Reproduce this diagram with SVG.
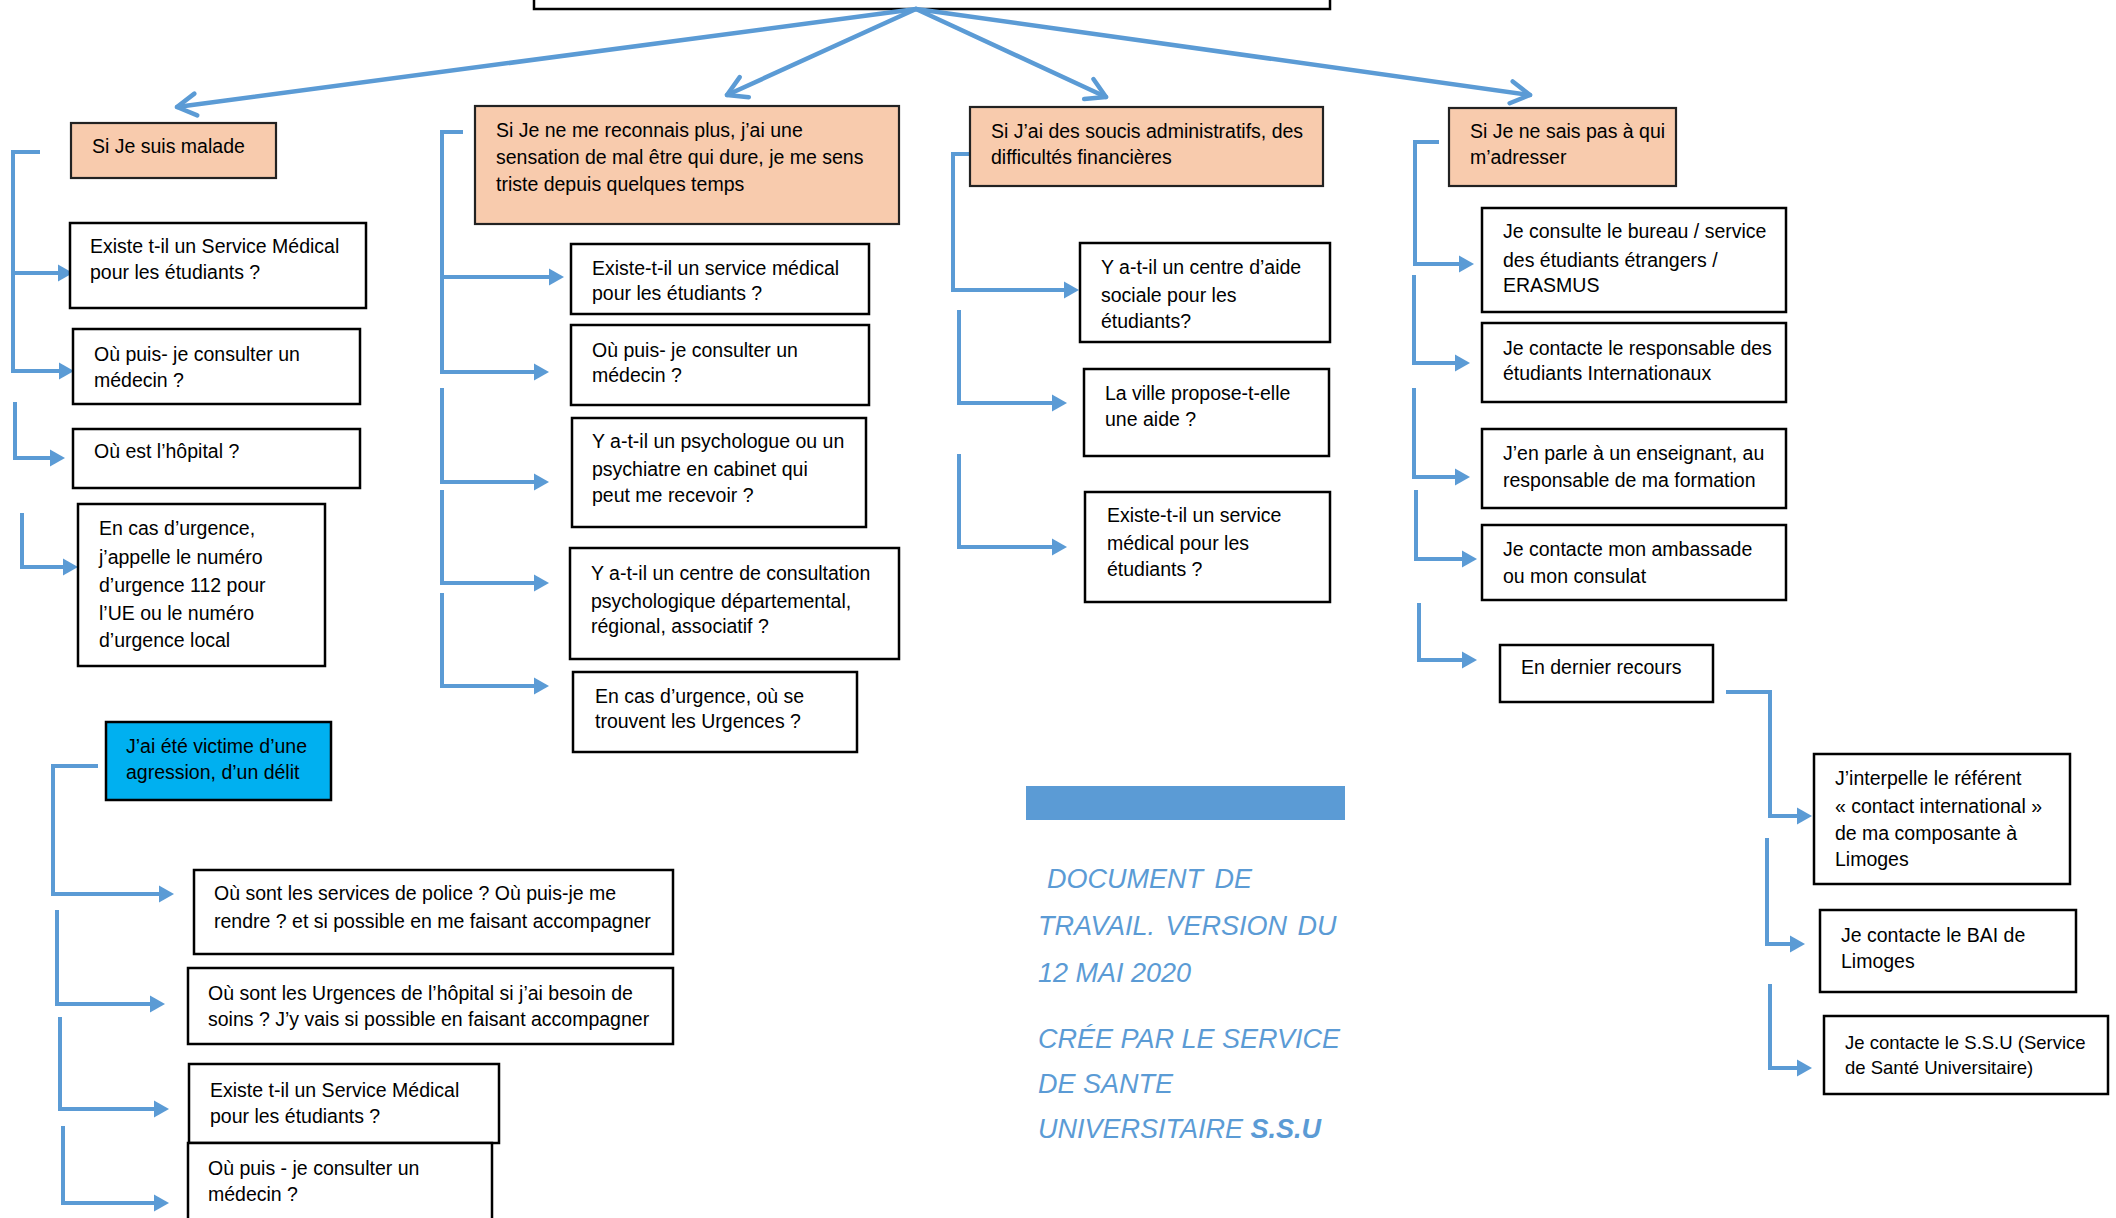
<svg xmlns="http://www.w3.org/2000/svg" width="2116" height="1218" viewBox="0 0 2116 1218">
<style>
.box{fill:#fff;stroke:#000;stroke-width:2.5}
.pe{fill:#F8CBAD;stroke:#222;stroke-width:2.2}
.bl{fill:#00B0F0;stroke:#000;stroke-width:2.5}
text{font-family:"Liberation Sans",Arial,sans-serif;font-size:19.5px;fill:#000}
.c{fill:none;stroke:#5B9BD5;stroke-width:4}
.m{fill:none;stroke:#5B9BD5;stroke-width:4.5;stroke-linecap:round}
.note{font-size:27px;font-style:italic;fill:#5B9BD5}
.sm{font-size:18.5px}
</style>
<defs>
<marker id="tri" markerUnits="userSpaceOnUse" viewBox="0 -10 16 20" refX="1" refY="0" markerWidth="16" markerHeight="20" orient="auto" overflow="visible">
<path d="M0,-8.5 L15,0 L0,8.5 Z" fill="#5B9BD5"/>
</marker>
<marker id="chev" markerUnits="userSpaceOnUse" viewBox="-25 -15 30 30" refX="0" refY="0" markerWidth="30" markerHeight="30" orient="auto" overflow="visible">
<path d="M-19,-11 L0,0 L-19,11" fill="none" stroke="#5B9BD5" stroke-width="4.5" stroke-linecap="round" stroke-linejoin="round"/>
</marker>
</defs>

<g id="top"><rect class="box" x="534" y="-40" width="796" height="49"/></g>

<g id="connectors">
<path class="m" d="M916,9 L177,107" marker-end="url(#chev)"/>
<path class="m" d="M916,9 L727,95" marker-end="url(#chev)"/>
<path class="m" d="M916,9 L1106,97" marker-end="url(#chev)"/>
<path class="m" d="M916,9 L1530,95" marker-end="url(#chev)"/>

<path class="c" d="M40,152 H13 V371 H60" marker-end="url(#tri)"/>
<path class="c" d="M13,273 H59" marker-end="url(#tri)"/>
<path class="c" d="M15,402 V458 H51" marker-end="url(#tri)"/>
<path class="c" d="M22,513 V567 H64" marker-end="url(#tri)"/>
<path class="c" d="M98,766 H53 V894 H160" marker-end="url(#tri)"/>
<path class="c" d="M57,910 V1004 H151" marker-end="url(#tri)"/>
<path class="c" d="M60,1017 V1109 H155" marker-end="url(#tri)"/>
<path class="c" d="M63,1126 V1203 H155" marker-end="url(#tri)"/>

<path class="c" d="M463,132 H442 V372 H535" marker-end="url(#tri)"/>
<path class="c" d="M442,277 H550" marker-end="url(#tri)"/>
<path class="c" d="M442,388 V482 H535" marker-end="url(#tri)"/>
<path class="c" d="M442,490 V583 H535" marker-end="url(#tri)"/>
<path class="c" d="M442,593 V686 H535" marker-end="url(#tri)"/>

<path class="c" d="M970,154 H953 V290 H1065" marker-end="url(#tri)"/>
<path class="c" d="M959,310 V403 H1053" marker-end="url(#tri)"/>
<path class="c" d="M959,454 V547 H1053" marker-end="url(#tri)"/>

<path class="c" d="M1439,142 H1415 V264 H1460" marker-end="url(#tri)"/>
<path class="c" d="M1414,275 V363 H1456" marker-end="url(#tri)"/>
<path class="c" d="M1414,388 V477 H1456" marker-end="url(#tri)"/>
<path class="c" d="M1416,490 V559 H1463" marker-end="url(#tri)"/>
<path class="c" d="M1419,603 V660 H1463" marker-end="url(#tri)"/>
<path class="c" d="M1726,692 H1770 V816 H1798" marker-end="url(#tri)"/>
<path class="c" d="M1767,838 V944 H1791" marker-end="url(#tri)"/>
<path class="c" d="M1770,984 V1068 H1798" marker-end="url(#tri)"/>
</g>

<g id="n1"><rect class="pe" x="71" y="123" width="205" height="55"/><text x="92" y="153">Si Je suis malade</text></g>
<g id="n2"><rect class="box" x="70" y="223" width="296" height="85"/><text x="90" y="253">Existe t-il un Service Médical</text><text x="90" y="279">pour les étudiants ?</text></g>
<g id="n3"><rect class="box" x="73" y="329" width="287" height="75"/><text x="94" y="361">Où puis- je consulter un</text><text x="94" y="387">médecin ?</text></g>
<g id="n4"><rect class="box" x="73" y="429" width="287" height="59"/><text x="94" y="458">Où est l’hôpital ?</text></g>
<g id="n5"><rect class="box" x="78" y="504" width="247" height="162"/><text x="99" y="535">En cas d’urgence,</text><text x="99" y="564">j’appelle le numéro</text><text x="99" y="592">d’urgence 112 pour</text><text x="99" y="620">l’UE ou le numéro</text><text x="99" y="647">d’urgence local</text></g>
<g id="n6"><rect class="bl" x="106" y="722" width="225" height="78"/><text x="126" y="753">J’ai été victime d’une</text><text x="126" y="779">agression, d’un délit</text></g>
<g id="n7"><rect class="box" x="194" y="870" width="479" height="84"/><text x="214" y="900">Où sont les services de police ? Où puis-je me</text><text x="214" y="928">rendre ? et si possible en me faisant accompagner</text></g>
<g id="n8"><rect class="box" x="188" y="968" width="485" height="76"/><text x="208" y="1000">Où sont les  Urgences de l’hôpital si j’ai besoin de</text><text x="208" y="1026">soins ? J’y vais si possible en faisant accompagner</text></g>
<g id="n9"><rect class="box" x="189" y="1064" width="310" height="79"/><text x="210" y="1097">Existe t-il un Service Médical</text><text x="210" y="1123">pour les étudiants ?</text></g>
<g id="n10"><rect class="box" x="188" y="1143" width="304" height="100"/><text x="208" y="1175">Où puis - je consulter un</text><text x="208" y="1201">médecin ?</text></g>

<g id="n11"><rect class="pe" x="475" y="106" width="424" height="118"/><text x="496" y="137">Si Je ne me reconnais plus, j’ai une</text><text x="496" y="164">sensation de mal être qui dure, je me sens</text><text x="496" y="191">triste depuis quelques  temps</text></g>
<g id="n12"><rect class="box" x="571" y="244" width="298" height="70"/><text x="592" y="275">Existe-t-il un  service médical</text><text x="592" y="300">pour les étudiants ?</text></g>
<g id="n13"><rect class="box" x="571" y="325" width="298" height="80"/><text x="592" y="357">Où puis- je consulter un</text><text x="592" y="382">médecin ?</text></g>
<g id="n14"><rect class="box" x="572" y="418" width="294" height="109"/><text x="592" y="448">Y a-t-il un psychologue ou un</text><text x="592" y="476">psychiatre en cabinet qui</text><text x="592" y="502">peut me recevoir ?</text></g>
<g id="n15"><rect class="box" x="570" y="548" width="329" height="111"/><text x="591" y="580">Y a-t-il un centre de consultation</text><text x="591" y="608">psychologique départemental,</text><text x="591" y="633">régional, associatif ?</text></g>
<g id="n16"><rect class="box" x="573" y="672" width="284" height="80"/><text x="595" y="703">En cas d’urgence, où se</text><text x="595" y="728">trouvent les Urgences ?</text></g>

<g id="n17"><rect class="pe" x="970" y="107" width="353" height="79"/><text x="991" y="138">Si J’ai des soucis administratifs, des</text><text x="991" y="164">difficultés financières</text></g>
<g id="n18"><rect class="box" x="1080" y="243" width="250" height="99"/><text x="1101" y="274">Y a-t-il un centre d’aide</text><text x="1101" y="302">sociale pour les</text><text x="1101" y="328">étudiants?</text></g>
<g id="n19"><rect class="box" x="1084" y="369" width="245" height="87"/><text x="1105" y="400">La ville propose-t-elle</text><text x="1105" y="426">une aide ?</text></g>
<g id="n20"><rect class="box" x="1085" y="492" width="245" height="110"/><text x="1107" y="522">Existe-t-il un  service</text><text x="1107" y="550">médical pour les</text><text x="1107" y="576">étudiants ?</text></g>

<g id="note">
<rect x="1026" y="786" width="319" height="34" fill="#5B9BD5"/>
<text class="note" x="1047" y="888" word-spacing="4">DOCUMENT DE</text>
<text class="note" x="1038" y="935" word-spacing="3">TRAVAIL.  VERSION DU</text>
<text class="note" x="1038" y="982">12 MAI 2020</text>
<text class="note" x="1038" y="1048">CRÉE PAR LE SERVICE</text>
<text class="note" x="1038" y="1093">DE SANTE</text>
<text class="note" x="1038" y="1138">UNIVERSITAIRE  <tspan font-weight="bold">S.S.U</tspan></text>
</g>

<g id="n21"><rect class="pe" x="1449" y="108" width="227" height="78"/><text x="1470" y="138">Si Je ne sais pas à qui</text><text x="1470" y="164">m’adresser</text></g>
<g id="n22"><rect class="box" x="1482" y="208" width="304" height="104"/><text x="1503" y="238">Je consulte le bureau / service</text><text x="1503" y="267">des étudiants étrangers /</text><text x="1503" y="292">ERASMUS</text></g>
<g id="n23"><rect class="box" x="1482" y="323" width="304" height="79"/><text x="1503" y="355">Je contacte le responsable des</text><text x="1503" y="380">étudiants Internationaux</text></g>
<g id="n24"><rect class="box" x="1482" y="429" width="304" height="79"/><text x="1503" y="460">J’en parle à un enseignant, au</text><text x="1503" y="487">responsable de ma formation</text></g>
<g id="n25"><rect class="box" x="1482" y="525" width="304" height="75"/><text x="1503" y="556">Je contacte mon ambassade</text><text x="1503" y="583">ou mon consulat</text></g>
<g id="n26"><rect class="box" x="1500" y="645" width="213" height="57"/><text x="1521" y="674">En dernier recours</text></g>
<g id="n27"><rect class="box" x="1814" y="754" width="256" height="130"/><text x="1835" y="785">J’interpelle le référent</text><text x="1835" y="813">« contact international »</text><text x="1835" y="840">de ma composante à</text><text x="1835" y="866">Limoges</text></g>
<g id="n28"><rect class="box" x="1820" y="910" width="256" height="82"/><text x="1841" y="942">Je contacte le BAI de</text><text x="1841" y="968">Limoges</text></g>
<g id="n29"><rect class="box" x="1824" y="1016" width="284" height="78"/><text class="sm" x="1845" y="1049">Je contacte le S.S.U (Service</text><text class="sm" x="1845" y="1074">de Santé Universitaire)</text></g>
</svg>
